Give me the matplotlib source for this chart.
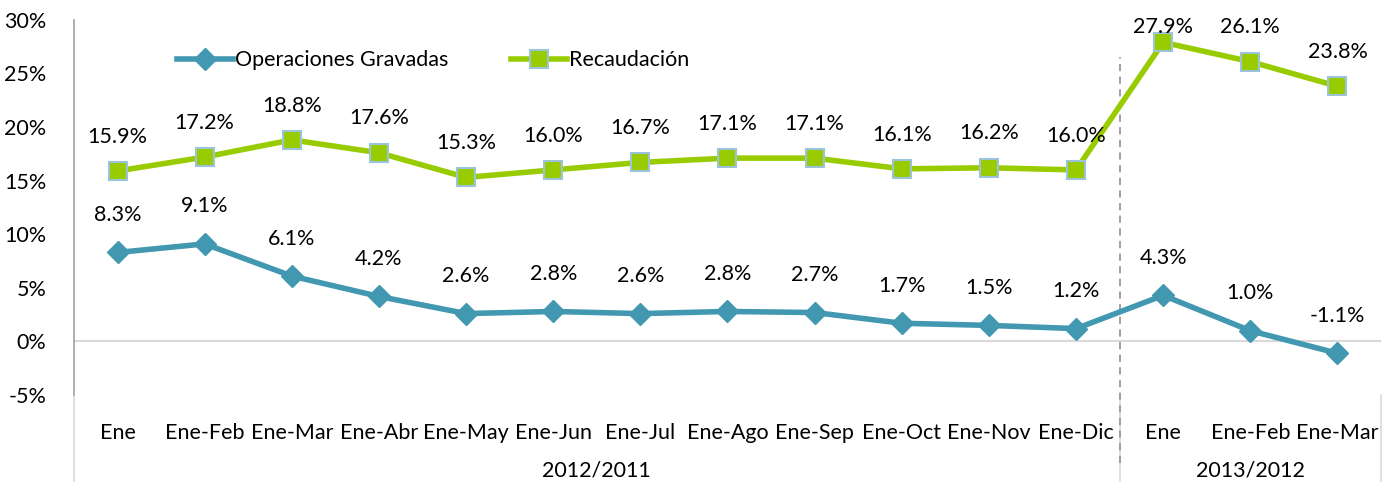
import matplotlib.pyplot as plt
from matplotlib.transforms import blended_transform_factory

# Data
categories = ['Ene', 'Ene-Feb', 'Ene-Mar', 'Ene-Abr', 'Ene-May', 'Ene-Jun', 'Ene-Jul',
              'Ene-Ago', 'Ene-Sep', 'Ene-Oct', 'Ene-Nov', 'Ene-Dic',
              'Ene', 'Ene-Feb', 'Ene-Mar']
operaciones = [8.3, 9.1, 6.1, 4.2, 2.6, 2.8, 2.6, 2.8, 2.7, 1.7, 1.5, 1.2, 4.3, 1.0, -1.1]
recaudacion = [15.9, 17.2, 18.8, 17.6, 15.3, 16.0, 16.7, 17.1, 17.1, 16.1, 16.2, 16.0, 27.9, 26.1, 23.8]
groups = ['2012/2011', '2013/2012']
group_sizes = [12, 3]
y_ticks = [-5, 0, 5, 10, 15, 20, 25, 30]

teal = '#4198b0'
green = '#99cc00'
font = ['Lato', 'DejaVu Sans']
plt.rcParams['font.family'] = font
fs = 15.5

fig = plt.figure(figsize=(13.95, 4.83), dpi=100)
ax = fig.add_axes([0.053, 0.182, 0.937, 0.777])

x = list(range(len(categories)))
ax.plot(x, operaciones, color=teal, lw=4, marker='D', ms=11, mfc=teal, mec=teal,
        label='Operaciones Gravadas', zorder=3)
ax.plot(x, recaudacion, color=green, lw=4, marker='s', ms=13, mfc=green, mec='#9cc3dc',
        mew=1.5, label='Recaudación', zorder=3)

# data labels
for i, v in enumerate(operaciones):
    ax.text(i, v + 3.5, f'{v:.1f}%', ha='center', va='center', fontsize=fs)
for i, v in enumerate(recaudacion):
    ax.text(i, min(v + 3.2, 29.3), f'{v:.1f}%', ha='center', va='center', fontsize=fs)

ax.set_xlim(-0.5, len(categories) - 0.5)
ax.set_ylim(-5, 30)
ax.set_yticks(y_ticks)
ax.set_yticklabels([f'{t}%' for t in y_ticks], fontsize=fs)
ax.set_xticks(x)
ax.set_xticklabels(categories, fontsize=fs)
ax.tick_params(axis='both', length=0)
ax.tick_params(axis='x', pad=20)
ax.tick_params(axis='y', pad=20)

for s in ['top', 'right', 'bottom']:
    ax.spines[s].set_visible(False)
ax.spines['left'].set_color('#a0a0a0')
ax.spines['left'].set_linewidth(1.2)
ax.axhline(0, color='#d9d9d9', lw=1.5, zorder=1)

# group separators and labels below the axis
trans = blended_transform_factory(ax.transData, ax.transAxes)
edges = [-0.5]
for n in group_sizes:
    edges.append(edges[-1] + n)
for e in edges:
    ax.plot([e, e], [0, -0.23], color='#d9d9d9', lw=1.2, transform=trans, clip_on=False)
ax.plot([edges[1], edges[1]], [-0.18, 0.9], color='#999999', lw=1.3, ls=(0, (4, 3)),
        transform=trans, clip_on=False, zorder=2)
for k, g in enumerate(groups):
    ax.text((edges[k] + edges[k + 1]) / 2, -0.2, g, ha='center', va='center',
            fontsize=fs, transform=trans)

ax.legend(loc='upper left', bbox_to_anchor=(0.064, 0.97), ncol=2, frameon=False,
          fontsize=fs, handlelength=2.6, handletextpad=0.1, columnspacing=2.9)

fig.savefig('out.png', dpi=100)
